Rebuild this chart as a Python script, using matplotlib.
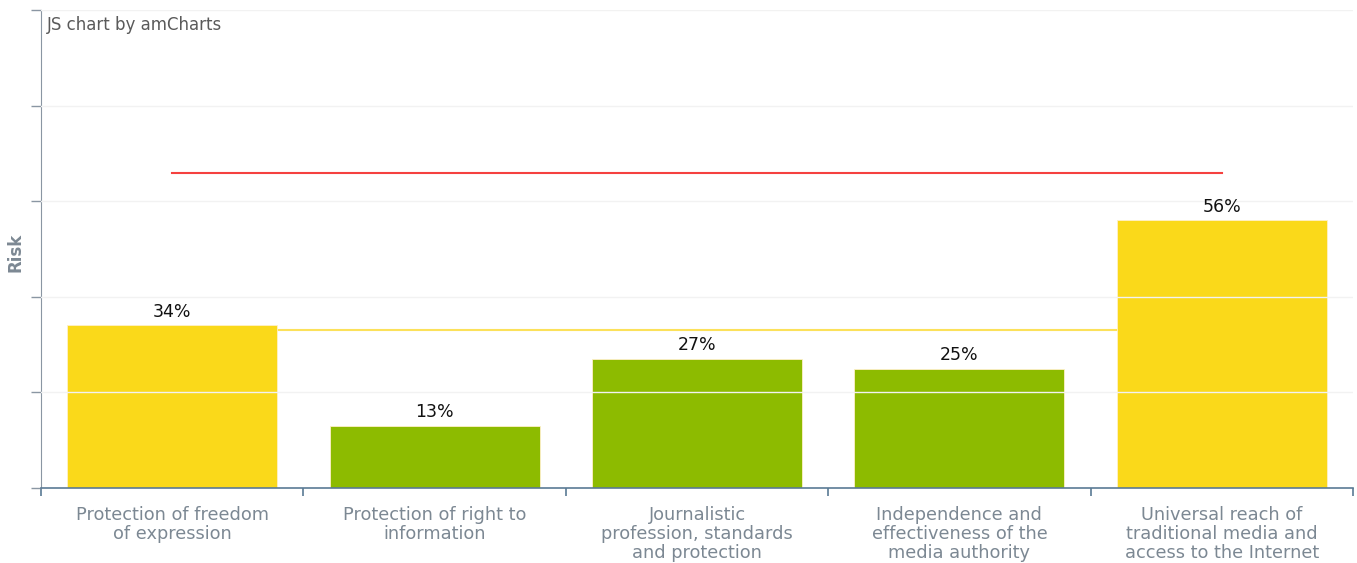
import matplotlib
matplotlib.use("Agg")
import matplotlib.pyplot as plt

categories = [
    "Protection of freedom\nof expression",
    "Protection of right to\ninformation",
    "Journalistic\nprofession, standards\nand protection",
    "Independence and\neffectiveness of the\nmedia authority",
    "Universal reach of\ntraditional media and\naccess to the Internet",
]
values = [34, 13, 27, 25, 56]
bar_colors = ["#FAD91A", "#8DBB00", "#8DBB00", "#8DBB00", "#FAD91A"]
low_threshold = 33
high_threshold = 66
y_ticks = [0, 20, 40, 60, 80, 100]

plt.rcParams['font.family'] = ['DejaVu Sans']
fig = plt.figure(figsize=(13.57, 5.63), dpi=100)
ax = fig.add_axes([41/1357, 1-488/563, (1353-41)/1357, (488-10)/563])

x = list(range(len(categories)))
ax.plot([x[0], x[-1]], [low_threshold]*2, color="#FCE15A", lw=1.5, zorder=1)
ax.plot([x[0], x[-1]], [high_threshold]*2, color="#F5413F", lw=1.5, zorder=1)
bars = ax.bar(x, values, width=0.8, color=bar_colors, edgecolor="#fff0c8", linewidth=0.6, zorder=2)
for xi, v in zip(x, values):
    ax.text(xi, v + 1.0, f"{v}%", ha="center", va="bottom", fontsize=12.5, color="#111111", zorder=5)

ax.set_xlim(-0.5, len(categories) - 0.5)
ax.set_ylim(0, 100)
ax.set_yticks(y_ticks)
ax.set_yticklabels([])
for t in y_ticks[1:]:
    ax.axhline(t, color="#f2f2f2", lw=1, zorder=3)

ax.set_xticks([i - 0.5 for i in range(len(categories) + 1)])
ax.set_xticklabels([])
ax.tick_params(axis="x", length=6, width=1.2, color="#5a7a95", direction="out")
ax.tick_params(axis="y", length=7, width=1, color="#8a96a3", direction="out")
for xi, lab in zip(x, categories):
    ax.text(xi, -3.8, lab, ha="center", va="top", fontsize=12.8, color="#7c8893",
            linespacing=1.08, transform=ax.transData)

for s in ["top", "right"]:
    ax.spines[s].set_visible(False)
ax.spines["left"].set_color("#8a96a3")
ax.spines["bottom"].set_color("#5a7a95")
ax.spines["bottom"].set_linewidth(1.2)

fig.text(16/1357, 1-252/563, "Risk", rotation=90, ha="center", va="center",
         fontsize=12, fontweight="bold", color="#7c8893")
fig.text(47/1357, 1-25/563, "JS chart by amCharts", ha="left", va="center",
         fontsize=12, color="#5a5a5a")

fig.savefig("out.png", dpi=100)
